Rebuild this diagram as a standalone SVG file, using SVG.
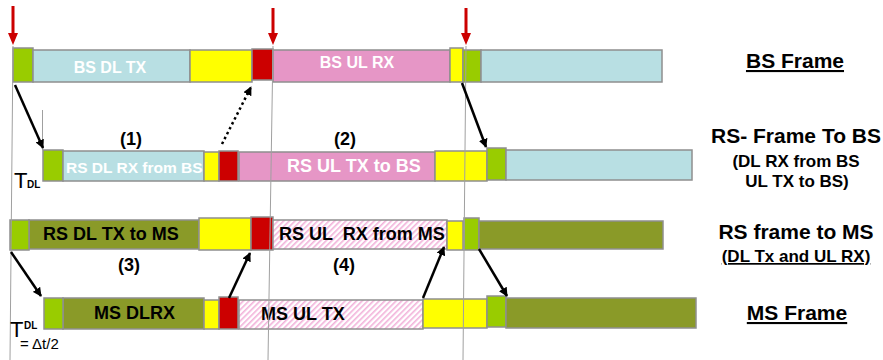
<svg xmlns="http://www.w3.org/2000/svg" width="883" height="360" viewBox="0 0 883 360">
<style>
text{font-family:"Liberation Sans",Arial,sans-serif}
.b{font-weight:bold}
.seg{stroke:#8f8f8f;stroke-width:1.5}
.lb{fill:#b8dfe3}.ye{fill:#ffff00}.rd{fill:#cc0000}.pk{fill:#e696c6}.gr{fill:#99cc00}.ol{fill:#8a9a28}.ht{fill:url(#hatch)}
.w{fill:#ffffff}
.bar{font-size:18px;font-weight:bold;fill:#000}
.lab{font-size:21px;font-weight:bold;fill:#000}
.sub{font-size:17px;font-weight:bold;fill:#000}
.num{font-size:18px;font-weight:bold;fill:#000}
.vl{stroke:#a0a0a0;stroke-width:1;fill:none}
.ar{stroke:#000;stroke-width:2.5;fill:none;marker-end:url(#ah)}
.red{fill:#cc0000}
</style>
<defs>
<pattern id="hatch" patternUnits="userSpaceOnUse" width="4" height="4" patternTransform="rotate(-45)">
<rect width="4" height="4" fill="#ffffff"/>
<rect width="4" height="1.6" fill="#f2b2da"/>
</pattern>
<marker id="ah" viewBox="0 0 10 10" refX="9" refY="5" markerWidth="3.6" markerHeight="3.6" orient="auto">
<path d="M0,0 L10,5 L0,10 z" fill="#000"/>
</marker>
</defs>

<g id="bs-frame">
<rect class="seg gr" x="13" y="48" width="20" height="34"/>
<rect class="seg lb" x="33" y="50" width="157" height="32"/>
<rect class="seg ye" x="190" y="50" width="62" height="32"/>
<rect class="seg rd" x="252" y="49" width="21" height="31"/>
<rect class="seg pk" x="273" y="50" width="177" height="32"/>
<rect class="seg ye" x="450" y="48" width="13" height="34"/>
<rect class="seg gr" x="463" y="50" width="18" height="32"/>
<rect class="seg lb" x="481" y="50" width="181" height="32"/>
<text x="110" y="73" class="b w" font-size="16" text-anchor="middle">BS DL TX</text>
<text x="357" y="68" class="b w" font-size="16" text-anchor="middle">BS UL RX</text>
</g>

<g id="rs-frame-to-bs">
<rect class="seg gr" x="43" y="150" width="20" height="31"/>
<rect class="seg lb" x="63" y="151" width="141" height="30"/>
<rect class="seg ye" x="204" y="152" width="15" height="29"/>
<rect class="seg rd" x="219" y="151" width="19" height="30"/>
<rect class="seg pk" x="239" y="152" width="196" height="29"/>
<rect class="seg ye" x="435" y="151" width="52" height="30"/>
<rect class="seg gr" x="487" y="148" width="19" height="32"/>
<rect class="seg lb" x="506" y="150" width="186" height="30"/>
<text x="66" y="173" class="b w" font-size="15.5">RS DL RX from BS</text>
<text x="287" y="172" class="b w" font-size="18">RS UL TX to BS</text>
</g>

<g id="rs-frame-to-ms">
<rect class="seg ol" x="29" y="220" width="170" height="29"/>
<rect class="seg gr" x="10" y="220" width="19" height="30"/>
<rect class="seg ye" x="199" y="218" width="52" height="32"/>
<rect class="seg rd" x="251" y="217" width="22" height="33"/>
<rect class="seg ht" x="273" y="220" width="174" height="29"/>
<rect class="seg ye" x="447" y="221" width="16" height="29"/>
<rect class="seg gr" x="464" y="218" width="15" height="32"/>
<rect class="seg ol" x="479" y="221" width="184" height="28"/>
<text x="43" y="240" class="bar">RS DL TX to MS</text>
<text x="279" y="240" class="bar" xml:space="preserve">RS UL  RX from MS</text>
</g>

<g id="ms-frame">
<rect class="seg ol" x="63" y="298" width="141" height="31"/>
<rect class="seg gr" x="44" y="298" width="19" height="31"/>
<rect class="seg ye" x="204" y="300" width="15" height="29"/>
<rect class="seg rd" x="219" y="297" width="19" height="32"/>
<rect class="seg ht" x="239" y="300" width="184" height="29"/>
<rect class="seg ye" x="423" y="299" width="64" height="29"/>
<rect class="seg gr" x="487" y="296" width="19" height="31"/>
<rect class="seg ol" x="506" y="298" width="190" height="30"/>
<text x="94" y="319" class="bar">MS DLRX</text>
<text x="261" y="320" class="bar">MS UL TX</text>
</g>

<g id="time-markers">
<line class="vl" x1="13" y1="46" x2="10" y2="360"/>
<line class="vl" x1="273" y1="46" x2="268" y2="360"/>
<line class="vl" x1="466" y1="46" x2="463" y2="360"/>
<line class="vl" x1="42.5" y1="110" x2="42.5" y2="150"/>
<rect class="red" x="11.5" y="6" width="3" height="28"/>
<polygon class="red" points="8,33 18,33 13,45"/>
<rect class="red" x="271.5" y="8" width="3" height="26"/>
<polygon class="red" points="268,33 278,33 273,45"/>
<rect class="red" x="464.5" y="8" width="3" height="26"/>
<polygon class="red" points="461,33 471,33 466,45"/>
</g>

<g id="connectors">
<line class="ar" x1="15" y1="85" x2="43" y2="148"/>
<line class="ar" x1="222" y1="144" x2="251" y2="87" stroke-dasharray="2.5,3"/>
<line class="ar" x1="462" y1="83" x2="486" y2="147"/>
<line class="ar" x1="11" y1="252" x2="41" y2="296"/>
<line class="ar" x1="229" y1="298" x2="250" y2="253"/>
<line class="ar" x1="423" y1="298" x2="444" y2="247"/>
<line class="ar" x1="479" y1="249" x2="507" y2="296"/>
</g>

<g id="labels">
<text x="131" y="145" class="num" text-anchor="middle">(1)</text>
<text x="345" y="145" class="num" text-anchor="middle">(2)</text>
<text x="129" y="271" class="num" text-anchor="middle">(3)</text>
<text x="344" y="271" class="num" text-anchor="middle">(4)</text>
<text x="14" y="188" font-size="22">T</text>
<text x="27" y="188" font-size="10" class="b">DL</text>
<text x="10" y="337" font-size="22">T</text>
<text x="24" y="329" font-size="10" class="b">DL</text>
<text x="20" y="349" font-size="15">= Δt/2</text>
<text x="795" y="68" class="lab" text-anchor="middle" text-decoration="underline">BS Frame</text>
<text x="796" y="143" class="lab" text-anchor="middle">RS- Frame To BS</text>
<text x="796" y="167" class="sub" text-anchor="middle">(DL RX from BS</text>
<text x="797" y="187" class="sub" text-anchor="middle">UL TX to BS)</text>
<text x="796" y="239" class="lab" text-anchor="middle">RS frame to MS</text>
<text x="796" y="262" class="sub" text-anchor="middle" text-decoration="underline">(DL Tx and UL RX)</text>
<text x="797" y="320" class="lab" text-anchor="middle" text-decoration="underline">MS Frame</text>
</g>
</svg>
